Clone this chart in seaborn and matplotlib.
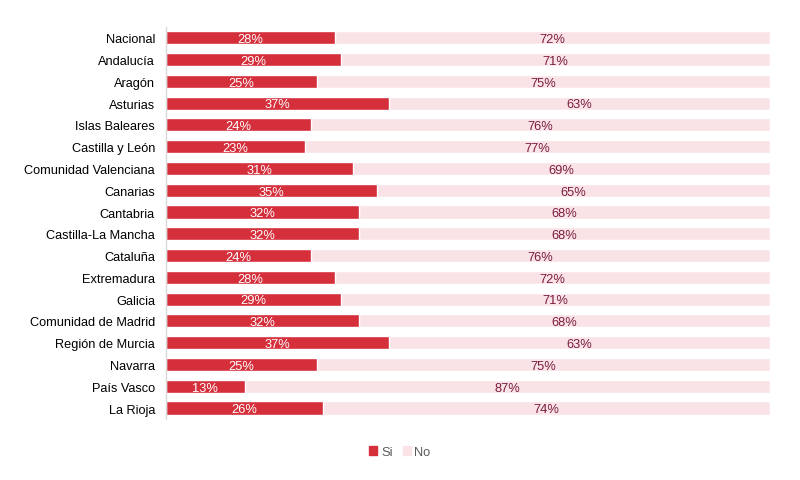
import matplotlib
matplotlib.use('Agg')
import matplotlib.pyplot as plt
import seaborn as sns
import pandas as pd
from matplotlib.patches import Patch

regiones = ['Nacional', 'Andalucía', 'Aragón', 'Asturias', 'Islas Baleares',
            'Castilla y León', 'Comunidad Valenciana', 'Canarias', 'Cantabria',
            'Castilla-La Mancha', 'Cataluña', 'Extremadura', 'Galicia',
            'Comunidad de Madrid', 'Región de Murcia', 'Navarra', 'País Vasco',
            'La Rioja']
si = [28, 29, 25, 37, 24, 23, 31, 35, 32, 32, 24, 28, 29, 32, 37, 25, 13, 26]
no = [72, 71, 75, 63, 76, 77, 69, 65, 68, 68, 76, 72, 71, 68, 63, 75, 87, 74]

rojo = '#d42f3b'
rosa = '#f9e3e6'

sns.set_style('white')
plt.rcParams['font.family'] = ['Liberation Sans', 'DejaVu Sans']

df = pd.DataFrame({'region': regiones, 'si': si, 'no': no})
df['total'] = df['si'] + df['no']

fig = plt.figure(figsize=(8, 4.81), dpi=100)
ax = fig.add_axes([0.2075, 0.127, 0.755, 0.815])

sns.barplot(data=df, x='total', y='region', color=rosa, width=0.6,
            saturation=1, ax=ax, orient='h')
sns.barplot(data=df, x='si', y='region', color=rojo, width=0.6,
            saturation=1, ax=ax, orient='h')

for i, (s, n) in enumerate(zip(si, no)):
    ax.text(s / 2, i + 0.06, f'{s}%', ha='center', va='center', color='white', fontsize=9.3)
    ax.text(s + n / 2, i + 0.06, f'{n}%', ha='center', va='center', color='#7b1d40', fontsize=9.3)

ax.set_xlim(0, 100)
ax.set_ylim(17.5, -0.5)
ax.set_xlabel('')
ax.set_ylabel('')
ax.set_xticks([])
ax.tick_params(axis='y', length=0, labelsize=9.2, pad=8, labelcolor='black')
for side in ['top', 'right', 'bottom']:
    ax.spines[side].set_visible(False)
ax.spines['left'].set_color('#d9d9d9')
ax.spines['left'].set_linewidth(1)

handles = [Patch(color=rojo, label='Si'), Patch(color=rosa, label='No')]
fig.legend(handles=handles, loc='center', bbox_to_anchor=(0.5, 0.058), ncol=2,
           frameon=False, fontsize=9.3, handlelength=0.6, handleheight=0.6,
           handletextpad=0.3, columnspacing=0.8, labelcolor='#595959')

fig.savefig('out.png', dpi=100)
